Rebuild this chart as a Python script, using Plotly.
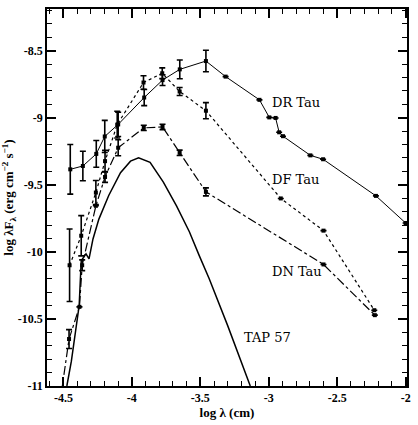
import plotly.graph_objects as go

# DR Tau (solid)
dr_x = [-4.45, -4.358, -4.26, -4.198, -4.10, -3.91, -3.776, -3.65, -3.459, -3.315, -3.068, -2.996, -2.95, -2.924, -2.896, -2.696, -2.603, -2.217, -2.0]
dr_y = [-9.385, -9.36, -9.27, -9.14, -9.05, -8.85, -8.72, -8.64, -8.578, -8.694, -8.867, -8.998, -9.002, -9.109, -9.138, -9.281, -9.31, -9.583, -9.785]
dr_e = [0.185, 0.11, 0.10, 0.12, 0.09, 0.06, 0.04, 0.07, 0.08, None, None, None, None, None, None, None, None, None, None]

# DF Tau (dotted)
df_x = [-4.455, -4.37, -4.263, -4.196, -4.107, -3.915, -3.778, -3.651, -3.459, -2.912, -2.60, -2.229]
df_y = [-10.10, -9.88, -9.558, -9.324, -9.052, -8.738, -8.669, -8.805, -8.948, -9.602, -9.842, -10.435]
df_e = [0.27, 0.15, 0.09, 0.08, 0.10, 0.05, 0.04, 0.03, 0.06, None, None, None]

# DN Tau (dash-dot)
dn_x = [-4.515, -4.459, -4.383, -4.363, -4.263, -4.196, -4.10, -3.913, -3.776, -3.651, -3.459, -2.60, -2.225]
dn_y = [-11.05, -10.65, -10.41, -10.10, -9.657, -9.442, -9.224, -9.076, -9.069, -9.262, -9.553, -10.094, -10.472]
dn_e = [None, 0.07, None, 0.04, None, 0.04, 0.06, 0.02, 0.02, 0.02, 0.03, None, None]

# TAP 57 (solid model curve)
tap_x = [-4.475, -4.442, -4.385, -4.37, -4.335, -4.313, -4.284, -4.241, -4.169, -4.083, -4.01, -3.951, -3.867, -3.77, -3.673, -3.58, -3.507, -3.435, -3.30, -3.20, -3.135]
tap_y = [-11.0, -10.815, -10.40, -10.067, -10.015, -10.052, -9.904, -9.756, -9.58, -9.41, -9.324, -9.299, -9.333, -9.48, -9.66, -9.85, -10.03, -10.2, -10.55, -10.82, -11.0]

labels = ["DR Tau", "DF Tau", "DN Tau", "TAP 57"]
label_x = [-2.99, -2.99, -2.99, -3.195]
label_y = [-8.89, -9.46, -10.15, -10.64]

x_ticks = [-4.5, -4, -3.5, -3, -2.5, -2]
x_ticklabels = ["-4.5", "-4", "-3.5", "-3", "-2.5", "-2"]
y_ticks = [-11, -10.5, -10, -9.5, -9, -8.5]
y_ticklabels = ["-11", "-10.5", "-10", "-9.5", "-9", "-8.5"]

fig = go.Figure()

def err(e):
    return dict(type="data", array=e, visible=True, color="black", thickness=1.6, width=3)

fig.add_trace(go.Scatter(x=dr_x, y=dr_y, mode="lines+markers",
                         line=dict(color="black", width=1, dash="solid"),
                         marker=dict(symbol="square", size=4, color="black"),
                         error_y=err(dr_e)))
fig.add_trace(go.Scatter(x=df_x, y=df_y, mode="lines+markers",
                         line=dict(color="black", width=1.2, dash="dot"),
                         marker=dict(symbol="square", size=4, color="black"),
                         error_y=err(df_e)))
fig.add_trace(go.Scatter(x=dn_x, y=dn_y, mode="lines+markers",
                         line=dict(color="black", width=1.2, dash="dashdot"),
                         marker=dict(symbol="square", size=4, color="black"),
                         error_y=err(dn_e)))
fig.add_trace(go.Scatter(x=tap_x, y=tap_y, mode="lines",
                         line=dict(color="black", width=1.5)))

for t, lx, ly in zip(labels, label_x, label_y):
    fig.add_annotation(x=lx, y=ly, text=t, showarrow=False, xanchor="left", yanchor="middle",
                       font=dict(family="DejaVu Serif", size=13, color="black"))

axis_common = dict(showgrid=False, zeroline=False, showline=True, linecolor="black", linewidth=1.5,
                   mirror="allticks", ticks="inside", ticklen=9, tickwidth=1.5, tickcolor="black",
                   tickfont=dict(family="Liberation Serif", size=12, color="black", weight="bold"))

fig.update_xaxes(range=[-4.62, -1.99], tickvals=x_ticks, ticktext=x_ticklabels,
                 minor=dict(dtick=0.1, ticks="inside", ticklen=5, tickwidth=1, tickcolor="black"),
                 title=dict(text="log λ (cm)", font=dict(family="Liberation Serif", size=13, color="black", weight="bold"), standoff=4),
                 **axis_common)
fig.update_yaxes(range=[-11, -8.19], tickvals=y_ticks, ticktext=y_ticklabels,
                 minor=dict(dtick=0.1, ticks="inside", ticklen=5, tickwidth=1, tickcolor="black"),
                 title=dict(text="log λF<sub>λ</sub> (erg cm<sup>−2</sup> s<sup>−1</sup>)", font=dict(family="Liberation Serif", size=13, color="black", weight="bold"), standoff=2),
                 **axis_common)

fig.update_layout(width=418, height=425, margin=dict(l=45, r=7, t=9, b=37),
                  paper_bgcolor="white", plot_bgcolor="white", showlegend=False)

fig.write_html("out.html")
